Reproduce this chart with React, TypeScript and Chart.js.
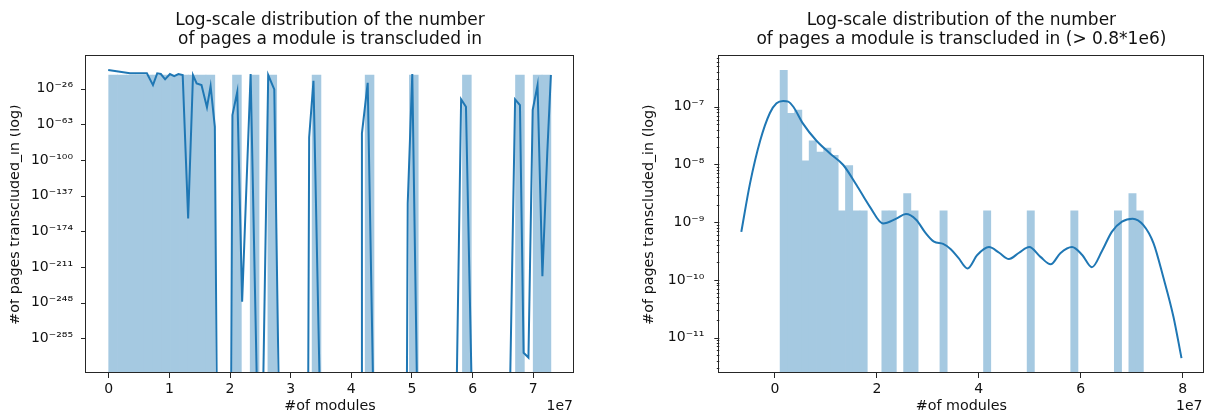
import React, { useEffect, useRef } from 'react';
import { Chart, registerables } from 'chart.js';

Chart.register(...registerables);

const FONT = '"DejaVu Sans", "Liberation Sans", sans-serif';
const TEXT = '#111111';
const SPINE = '#262626';
// #1f77b4 at alpha 0.4 over white, as an opaque colour (avoids seams between bins)
const BAR = 'rgb(165, 201, 225)';
const LINE = '#1f77b4';
const H = 416;

Chart.defaults.font.family = FONT;
Chart.defaults.color = TEXT;

// ---------------- left panel ----------------
const LEFT_TITLE = ['Log-scale distribution of the number', 'of pages a module is transcluded in'];
const LEFT_BIN_START = 0;
const LEFT_BIN_WIDTH = 0.1458e7;
// 50 bins (density); empty bins are 0
const LEFT_HIST = [
  1.7e-12, 1.7e-12, 1.7e-12, 1.7e-12, 1.7e-12, 1.7e-12, 1.7e-12, 1.7e-12, 1.7e-12, 1.7e-12,
  1.7e-12, 1.7e-12, 0, 0, 1.7e-12, 0, 1.7e-12, 0, 1.7e-12, 0,
  0, 0, 0, 1.7e-12, 0, 0, 0, 0, 0, 1.7e-12,
  0, 0, 0, 0, 1.7e-12, 0, 0, 0, 0, 0,
  1.7e-12, 0, 0, 0, 0, 0, 1.7e-12, 0, 1.7e-12, 1.7e-12,
];
const LEFT_KDE_X = [
  -0.008e7, 0.13e7, 0.35e7, 0.63e7, 0.73e7, 0.80e7, 0.86e7, 0.93e7, 1.01e7, 1.08e7,
  1.15e7, 1.22e7, 1.31e7, 1.39e7, 1.45e7, 1.53e7, 1.62e7, 1.68e7, 1.75e7, 1.78e7,
  2.02e7, 2.04e7, 2.12e7, 2.20e7, 2.34e7, 2.44e7, 2.55e7, 2.63e7, 2.73e7, 2.80e7,
  3.29e7, 3.305e7, 3.376e7, 3.475e7, 4.16e7, 4.175e7, 4.27e7, 4.356e7, 4.917e7, 4.93e7,
  5.005e7, 5.08e7, 5.74e7, 5.81e7, 5.89e7, 5.98e7, 6.62e7, 6.70e7, 6.78e7, 6.84e7,
  6.92e7, 6.99e7, 7.07e7, 7.15e7, 7.23e7, 7.29e7,
];
const LEFT_KDE_Y = [
  2.5e-7, 1.26e-8, 1e-10, 1e-10, 6.3e-23, 1e-10, 2e-11, 6.3e-17, 2e-11, 1.6e-13,
  2e-11, 1.6e-12, 2.5e-161, 1.6e-12, 4e-21, 6.3e-23, 5e-46, 6.3e-24, 3.2e-66, 0,
  0, 5e-54, 7.9e-30, 1e-247, 2e-11, 0, 0, 1.6e-12, 2.5e-27, 0,
  0, 3.2e-77, 2e-18, 0, 0, 5e-73, 1.6e-20, 0, 0, 1e-145,
  2e-11, 0, 0, 1e-37, 2e-45, 0, 0, 1e-37, 1.3e-43, 1e-300,
  1e-305, 1e-48, 6.3e-23, 2.5e-221, 1e-93, 1.6e-12,
];
const LEFT_X_TICKS = [0, 1e7, 2e7, 3e7, 4e7, 5e7, 6e7, 7e7];
const LEFT_Y_TICKS = [1e-285, 1e-248, 1e-211, 1e-174, 1e-137, 1e-100, 1e-63, 1e-26];
const LEFT_X_MIN = -0.374e7;
const LEFT_X_MAX = 7.671e7;
const LEFT_Y_MIN = 1e-321;
const LEFT_Y_MAX = 1e8;

// ---------------- right panel ----------------
const RIGHT_TITLE = ['Log-scale distribution of the number', 'of pages a module is transcluded in (> 0.8*1e6)'];
const RIGHT_BIN_START = 0.1e7;
const RIGHT_BIN_WIDTH = 0.1426e7;
const RIGHT_HIST = [
  4.3e-7, 7.7e-8, 8.8e-8, 1.16e-8, 2.57e-8, 1.64e-8, 1.92e-8, 1.44e-8, 1.57e-9, 9.6e-9,
  1.57e-9, 1.57e-9, 0, 0, 1.57e-9, 1.57e-9, 0, 3.14e-9, 1.57e-9, 0,
  0, 0, 1.57e-9, 0, 0, 0, 0, 0, 1.57e-9, 0,
  0, 0, 0, 0, 1.57e-9, 0, 0, 0, 0, 0,
  1.57e-9, 0, 0, 0, 0, 0, 1.57e-9, 0, 3.14e-9, 1.57e-9,
];
const RIGHT_KDE_X = [
  -0.661e7, -0.49e7, -0.29e7, -0.10e7, 0.03e7, 0.16e7, 0.26e7, 0.36e7, 0.55e7, 0.81e7,
  1.08e7, 1.34e7, 1.60e7, 1.86e7, 2.12e7, 2.38e7, 2.57e7, 2.77e7, 2.95e7, 3.12e7,
  3.30e7, 3.45e7, 3.60e7, 3.78e7, 3.97e7, 4.20e7, 4.40e7, 4.59e7, 4.79e7, 4.99e7,
  5.21e7, 5.41e7, 5.60e7, 5.83e7, 6.03e7, 6.22e7, 6.42e7, 6.61e7, 6.81e7, 7.02e7,
  7.23e7, 7.43e7, 7.62e7, 7.82e7, 7.978e7,
];
const RIGHT_KDE_Y = [
  6.8e-10, 4.7e-9, 2.6e-8, 7.8e-8, 1.15e-7, 1.26e-7, 1.23e-7, 1.0e-7, 5.1e-8, 2.6e-8,
  1.55e-8, 9.8e-9, 4.4e-9, 1.86e-9, 9.5e-10, 1.15e-9, 1.38e-9, 1.1e-9, 6.6e-10, 4.6e-10,
  4.2e-10, 3.4e-10, 2.4e-10, 1.58e-10, 2.7e-10, 3.7e-10, 2.95e-10, 2.3e-10, 2.95e-10, 3.7e-10,
  2.5e-10, 1.86e-10, 2.9e-10, 3.7e-10, 2.7e-10, 1.66e-10, 3.2e-10, 6.8e-10, 1.02e-9, 1.15e-9,
  8.9e-10, 4.3e-10, 1.12e-10, 2.3e-11, 4.4e-12,
];
const RIGHT_X_TICKS = [0, 2e7, 4e7, 6e7, 8e7];
const RIGHT_Y_TICKS = [1e-11, 1e-10, 1e-9, 1e-8, 1e-7];
const RIGHT_X_MIN = -1.093e7;
const RIGHT_X_MAX = 8.41e7;
const RIGHT_Y_MIN = 2.43e-12;
const RIGHT_Y_MAX = 7.59e-7;

const X_LABEL = '#of modules';
const Y_LABEL = '#of pages transcluded_in (log)';
const OFFSET_TEXT = '1e7';

const SUP: Record<string, string> = {
  '-': '\u207B', '0': '\u2070', '1': '\u00B9', '2': '\u00B2', '3': '\u00B3', '4': '\u2074',
  '5': '\u2075', '6': '\u2076', '7': '\u2077', '8': '\u2078', '9': '\u2079',
};
const pow10Label = (v: number) =>
  '10' + String(Math.round(Math.log10(v))).split('').map((c) => SUP[c] || c).join('');

function minorTicks(min: number, max: number) {
  const out: number[] = [];
  for (let e = Math.floor(Math.log10(min)); e <= Math.ceil(Math.log10(max)); e++) {
    for (let k = 2; k <= 9; k++) {
      const v = k * Math.pow(10, e);
      if (v > min && v < max) out.push(v);
    }
  }
  return out;
}

const decorPlugin = {
  id: 'decor',
  afterDatasetsDraw(chart: any, _args: any, opts: any) {
    const { ctx, chartArea: a } = chart;
    const y = chart.scales.y;
    ctx.save();
    ctx.strokeStyle = SPINE;
    ctx.lineWidth = 1;
    const tick = (v: number, len: number) => {
      const py = Math.round(y.getPixelForValue(v)) + 0.5;
      ctx.beginPath();
      ctx.moveTo(a.left, py);
      ctx.lineTo(a.left - len, py);
      ctx.stroke();
    };
    (opts.major || []).forEach((v: number) => tick(v, 5));
    (opts.minor || []).forEach((v: number) => tick(v, 2.5));
    const l = Math.round(a.left) - 0.5;
    const t = Math.round(a.top) - 0.5;
    const r = Math.round(a.right) - 0.5;
    const b = Math.round(a.bottom) - 0.5;
    ctx.strokeRect(l, t, r - l, b - t);
    ctx.fillStyle = TEXT;
    ctx.font = `14px ${FONT}`;
    ctx.textAlign = 'right';
    ctx.textBaseline = 'alphabetic';
    ctx.fillText(opts.offsetText, a.right - 1, opts.offsetY);
    ctx.restore();
  },
};

type Spec = {
  title: string[];
  hist: number[];
  binStart: number;
  binWidth: number;
  kdeX: number[];
  kdeY: number[];
  xMin: number;
  xMax: number;
  xTicks: number[];
  yMin: number;
  yMax: number;
  yTicks: number[];
  yMinor: number[];
  yAxisWidth: number;
  padRight: number;
  yTitlePad: number;
  smooth: boolean;
};

function makeConfig(s: Spec): any {
  const histData = s.hist.map((v, i) => ({ x: s.binStart + (i + 0.5) * s.binWidth, y: v }));
  // matplotlib clips non-positive values on a log axis: draw them below the axis
  const kdeData = s.kdeX.map((x, i) => ({ x, y: s.kdeY[i] > 0 ? s.kdeY[i] : Number.MIN_VALUE }));
  return {
    type: 'bar',
    data: {
      datasets: [
        {
          type: 'line',
          data: kdeData,
          borderColor: LINE,
          borderWidth: 2,
          pointRadius: 0,
          fill: false,
          tension: s.smooth ? 0.4 : 0,
          cubicInterpolationMode: s.smooth ? 'monotone' : 'default',
          order: 1,
          clip: 0,
        },
        {
          type: 'bar',
          data: histData,
          backgroundColor: BAR,
          borderWidth: 0,
          barPercentage: 1,
          categoryPercentage: 1,
          order: 2,
        },
      ],
    },
    options: {
      responsive: false,
      animation: false,
      events: [],
      layout: { padding: { left: 0, right: s.padRight, top: 0, bottom: 0 } },
      plugins: {
        legend: { display: false },
        tooltip: { enabled: false },
        title: {
          display: true,
          text: s.title,
          fullSize: false,
          color: TEXT,
          font: { size: 17, weight: 'normal', lineHeight: 1.15, family: FONT },
          padding: { top: 10.7, bottom: 6.2 },
        },
        decor: { major: s.yTicks, minor: s.yMinor, offsetText: OFFSET_TEXT, offsetY: 410 },
      },
      scales: {
        x: {
          type: 'linear',
          min: s.xMin,
          max: s.xMax,
          offset: false,
          bounds: 'data',
          afterBuildTicks: (sc: any) => {
            sc.ticks = s.xTicks.map((v) => ({ value: v }));
          },
          afterFit: (sc: any) => {
            sc.height = H - 373;
          },
          grid: { offset: false, drawOnChartArea: false, drawTicks: true, tickLength: 5, tickColor: SPINE, tickWidth: 1 },
          border: { display: false },
          ticks: {
            padding: 3,
            color: TEXT,
            font: { size: 14, family: FONT },
            autoSkip: false,
            maxRotation: 0,
            callback: (v: number) => String(Math.round(v / 1e7)),
          },
          title: {
            display: true,
            text: X_LABEL,
            color: TEXT,
            font: { size: 14.3, family: FONT },
            padding: { top: 0, bottom: 1.4 },
          },
        },
        y: {
          type: 'logarithmic',
          min: s.yMin,
          max: s.yMax,
          bounds: 'data',
          beginAtZero: false,
          afterBuildTicks: (sc: any) => {
            sc.ticks = s.yTicks.map((v) => ({ value: v, major: true }));
          },
          afterFit: (sc: any) => {
            sc.width = s.yAxisWidth;
          },
          grid: { drawOnChartArea: false, drawTicks: false },
          border: { display: false },
          ticks: {
            padding: s.yAxisWidth > 100 ? 15 : 13,
            color: TEXT,
            font: { size: 14, family: FONT },
            autoSkip: false,
            callback: (v: number) => pow10Label(v),
          },
          title: {
            display: true,
            text: Y_LABEL,
            color: TEXT,
            font: { size: 14.3, family: FONT },
            padding: { top: s.yTitlePad, bottom: 0 },
          },
        },
      },
    },
    plugins: [decorPlugin],
  };
}

const LEFT_SPEC: Spec = {
  title: LEFT_TITLE,
  hist: LEFT_HIST,
  binStart: LEFT_BIN_START,
  binWidth: LEFT_BIN_WIDTH,
  kdeX: LEFT_KDE_X,
  kdeY: LEFT_KDE_Y,
  xMin: LEFT_X_MIN,
  xMax: LEFT_X_MAX,
  xTicks: LEFT_X_TICKS,
  yMin: LEFT_Y_MIN,
  yMax: LEFT_Y_MAX,
  yTicks: LEFT_Y_TICKS,
  yMinor: [],
  yAxisWidth: 86,
  padRight: 26,
  yTitlePad: 6.6,
  smooth: false,
};

const RIGHT_SPEC: Spec = {
  title: RIGHT_TITLE,
  hist: RIGHT_HIST,
  binStart: RIGHT_BIN_START,
  binWidth: RIGHT_BIN_WIDTH,
  kdeX: RIGHT_KDE_X,
  kdeY: RIGHT_KDE_Y,
  xMin: RIGHT_X_MIN,
  xMax: RIGHT_X_MAX,
  xTicks: RIGHT_X_TICKS,
  yMin: RIGHT_Y_MIN,
  yMax: RIGHT_Y_MAX,
  yTicks: RIGHT_Y_TICKS,
  yMinor: minorTicks(RIGHT_Y_MIN, RIGHT_Y_MAX),
  yAxisWidth: 119.3,
  padRight: 1.5,
  yTitlePad: 40.4,
  smooth: true,
};

function Panel({ spec, pageLeft, width, clipLeft }: { spec: Spec; pageLeft: number; width: number; clipLeft: number }) {
  const ref = useRef<HTMLCanvasElement | null>(null);
  useEffect(() => {
    if (!ref.current) return;
    const chart = new Chart(ref.current, makeConfig(spec));
    return () => chart.destroy();
  }, [spec]);
  return (
    <div
      style={{
        position: 'absolute',
        left: pageLeft + clipLeft,
        top: 0,
        width: width - clipLeft,
        height: H,
        overflow: 'hidden',
      }}
    >
      <canvas
        ref={ref}
        width={width}
        height={H}
        style={{ position: 'absolute', left: -clipLeft, top: 0, width, height: H, display: 'block' }}
      />
    </div>
  );
}

export default function App() {
  return (
    <div style={{ position: 'absolute', left: 0, top: 0, width: 1205, height: H, background: '#ffffff', overflow: 'hidden' }}>
      <Panel spec={LEFT_SPEC} pageLeft={0} width={600} clipLeft={10} />
      <Panel spec={RIGHT_SPEC} pageLeft={600} width={605} clipLeft={0} />
    </div>
  );
}
